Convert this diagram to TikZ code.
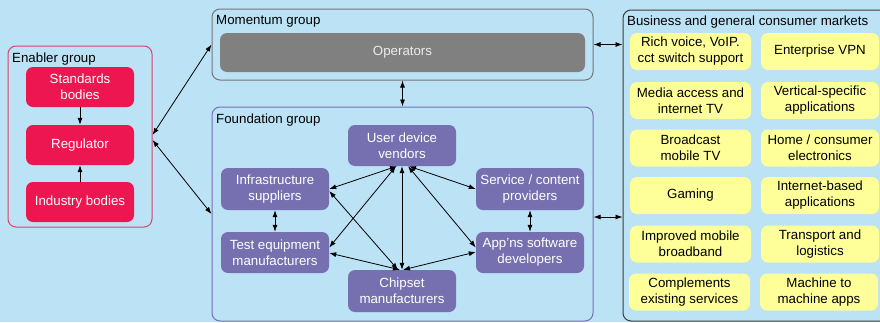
\documentclass[tikz,border=0pt]{standalone}
\usepackage{fontspec}
\setmainfont{Liberation Sans}
\usetikzlibrary{arrows.meta,calc}
\definecolor{bgblue}{RGB}{187,226,245}
\definecolor{crim}{RGB}{238,22,80}
\definecolor{crimline}{RGB}{224,64,110}
\definecolor{opgray}{RGB}{128,128,128}
\definecolor{momline}{RGB}{118,118,118}
\definecolor{purp}{RGB}{118,112,176}
\definecolor{purpline}{RGB}{120,110,185}
\definecolor{yel}{RGB}{255,255,153}
\definecolor{mktline}{RGB}{60,60,60}
\tikzset{
  txt/.style={font=\fontsize{13.3}{16}\selectfont},
  grp/.style={draw, rounded corners=8pt, line width=1pt, inner sep=0pt},
  gtitle/.style={txt, anchor=north west, inner sep=0pt, text=black},
  bx/.style={txt, rounded corners=7pt, inner sep=0pt, align=center, minimum height=40pt},
  redbox/.style={bx, fill=crim, text=white, minimum width=108pt},
  purbox/.style={bx, fill=purp, text=white, minimum width=108pt, minimum height=41pt},
  yelbox/.style={bx, fill=yel, text=black, minimum height=37pt},
  conn/.style={line width=0.8pt, {Latex[length=7pt,width=5pt]}-{Latex[length=7pt,width=5pt]}},
  oneway/.style={line width=0.8pt, -{Latex[length=7pt,width=5pt]}}
}
\begin{document}
\begin{tikzpicture}[x=1pt,y=-1pt]
\useasboundingbox (0,0) rectangle (880,322);
\fill[bgblue] (0,0) rectangle (880,322);
\clip (0,0) rectangle (880,322);

% Enabler group
\node[grp, draw=crimline, minimum width=144pt, minimum height=181pt] (enb) at (80,136.5) {};
\node[gtitle] (enbt) at (12,53) {Enabler group};
\node[redbox] (std) at (80,87) {Standards\\bodies};
\node[redbox] (reg) at (80,145) {Regulator};
\node[redbox] (ind) at (80,202) {Industry bodies};
\draw[oneway] (std) -- (reg);
\draw[oneway] (ind) -- (reg);

% Momentum group
\node[grp, draw=momline, minimum width=381pt, minimum height=71pt] (mom) at (402.5,44.5) {};
\node[gtitle] (momt) at (216,15) {Momentum group};
\node[bx, fill=opgray, text=white!92!black, minimum width=365pt, minimum height=39pt] (op) at (402.5,52.5) {Operators};

% Foundation group
\node[grp, draw=purpline, minimum width=381pt, minimum height=214pt] (fnd) at (402.5,214) {};
\node[gtitle] (fndt) at (216,114) {Foundation group};
\node[purbox] (udv) at (402,145.5) {User device\\vendors};
\node[purbox, minimum height=42pt] (inf) at (275,189) {Infrastructure\\suppliers};
\node[purbox, minimum height=42pt] (svc) at (530,189) {Service / content\\providers};
\node[purbox] (tst) at (275,252.5) {Test equipment\\manufacturers};
\node[purbox] (app) at (530,252.5) {App'ns software\\developers};
\node[purbox, minimum height=42pt] (chp) at (402,291) {Chipset\\manufacturers};

\draw[conn] (inf) -- (tst);
\draw[conn] (svc) -- (app);
\draw[conn] ([xshift=-5pt]udv.south) -- (inf.east);
\draw[conn] ([xshift=-6pt]udv.south) -- ([yshift=5pt]tst.east);
\draw[conn] ([xshift=7pt]udv.south) -- (svc.west);
\draw[conn] ([xshift=6pt]udv.south) -- ([yshift=5pt]app.west);
\draw[conn] (udv.south) -- (chp.north);
\draw[conn] ([yshift=-2pt]inf.east) -- ([xshift=-4pt]chp.north);
\draw[conn] ([yshift=-0.5pt]tst.east) -- ([xshift=-2pt]chp.north);
\draw[conn] ([yshift=0.5pt]app.west) -- ([xshift=1pt]chp.north);

% Markets
\node[grp, draw=mktline, minimum width=272pt, minimum height=311pt] (mkt) at (759,165.5) {};
\node[gtitle] (mktt) at (627,16) {Business and general consumer markets};
\node[yelbox, minimum width=121pt] (m1) at (690.5,51.5) {Rich voice, VoIP.\\cct switch support};
\node[yelbox, minimum width=118pt] (m2) at (820,51.5) {Enterprise VPN};
\node[yelbox, minimum width=121pt] (m3) at (690.5,100.5) {Media access and\\internet TV};
\node[yelbox, minimum width=118pt] (m4) at (820,100.5) {Vertical-specific\\applications};
\node[yelbox, minimum width=121pt] (m5) at (690.5,148) {Broadcast\\mobile TV};
\node[yelbox, minimum width=118pt] (m6) at (820,148) {Home / consumer\\electronics};
\node[yelbox, minimum width=121pt] (m7) at (690.5,195.5) {Gaming};
\node[yelbox, minimum width=118pt] (m8) at (820,195.5) {Internet-based\\applications};
\node[yelbox, minimum width=121pt] (m9) at (690.5,244) {Improved mobile\\broadband};
\node[yelbox, minimum width=118pt] (m10) at (820,244) {Transport and\\logistics};
\node[yelbox, minimum width=121pt] (m11) at (689.5,292) {Complements\\existing services};
\node[yelbox, minimum width=118pt] (m12) at (819,292) {Machine to\\machine apps};

% Group connectors
\draw[conn] ([yshift=1.5pt]enb.east) -- (mom.west);
\draw[conn] ([yshift=-3.5pt]enb.east) -- (fnd.west);
\draw[conn] (mom.south) -- (fnd.north);
\draw[conn] (mom.east) -- (mkt.west |- mom.east);
\coordinate (fe) at ([yshift=-3pt]fnd.east);
\draw[conn] (fe) -- (mkt.west |- fe);
\end{tikzpicture}
\end{document}
